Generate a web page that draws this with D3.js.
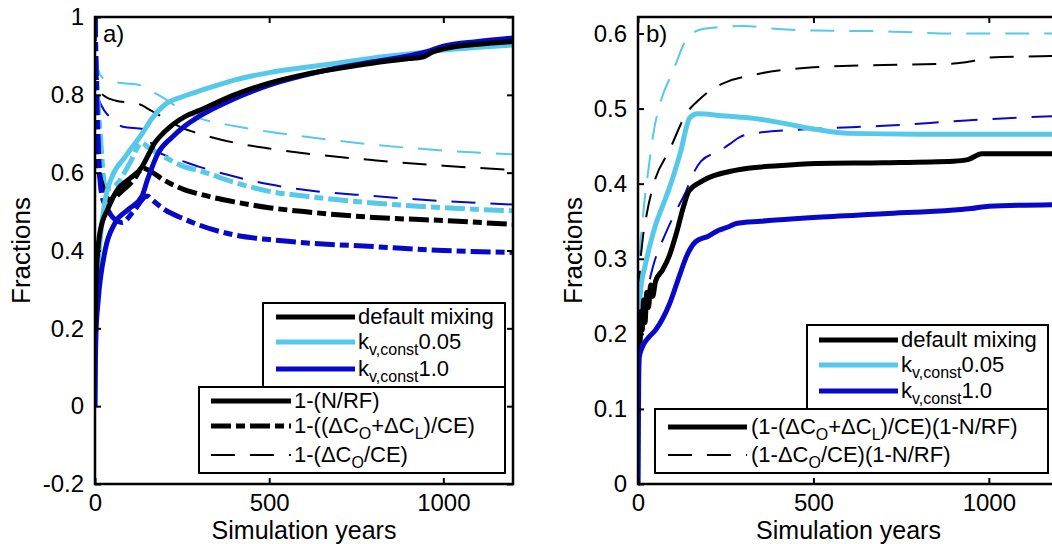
<!DOCTYPE html>
<html>
<head>
<meta charset="utf-8">
<script src="https://cdn.jsdelivr.net/npm/d3@7"></script>
<style>
  body { margin: 0; background: #fff; }
  svg { display: block; font-family: "Liberation Sans", Arial, sans-serif; }
</style>
</head>
<body>
<div id="chart"></div>
<script>
// ---- data ----
// panel a
const aBlackSolidT = [0, 2, 5, 15, 37, 66, 100, 135, 150, 172, 200, 258, 300, 400, 500, 600, 700, 800, 900, 940, 970, 1000, 1100, 1200];
const aBlackSolidV = [0.19, 0.3, 0.36, 0.45, 0.507, 0.558, 0.585, 0.615, 0.64, 0.677, 0.705, 0.744, 0.76, 0.8, 0.83, 0.852, 0.868, 0.882, 0.893, 0.897, 0.91, 0.918, 0.93, 0.937];
const aCyanSolidT = [0, 1, 3, 8, 14, 29, 49, 86, 135, 164, 201, 250, 300, 400, 500, 600, 700, 800, 900, 1000, 1100, 1200];
const aCyanSolidV = [0, 0.15, 0.28, 0.36, 0.42, 0.53, 0.59, 0.64, 0.7, 0.74, 0.775, 0.795, 0.81, 0.838, 0.857, 0.87, 0.882, 0.895, 0.905, 0.915, 0.922, 0.928];
const aBlueSolidT = [0, 1, 3, 9, 29, 57, 95, 135, 150, 181, 220, 258, 300, 400, 500, 600, 700, 800, 900, 950, 1000, 1100, 1200];
const aBlueSolidV = [0, 0.1, 0.19, 0.27, 0.4, 0.47, 0.505, 0.54, 0.58, 0.65, 0.69, 0.72, 0.745, 0.79, 0.825, 0.85, 0.87, 0.885, 0.9, 0.91, 0.925, 0.937, 0.946];

const aBlackDashDotT = [0, 3, 9, 20, 29, 37, 55, 80, 110, 138, 150, 200, 258, 300, 400, 500, 600, 800, 1000, 1200];
const aBlackDashDotV = [1.0, 0.8, 0.62, 0.57, 0.55, 0.53, 0.535, 0.555, 0.58, 0.612, 0.608, 0.58, 0.556, 0.545, 0.525, 0.51, 0.5, 0.485, 0.477, 0.467];
const aCyanDashDotT = [0, 5, 15, 29, 45, 66, 100, 135, 150, 200, 258, 300, 400, 500, 600, 800, 1000, 1200];
const aCyanDashDotV = [1.0, 0.85, 0.7, 0.565, 0.56, 0.574, 0.625, 0.677, 0.667, 0.64, 0.615, 0.605, 0.575, 0.552, 0.54, 0.522, 0.51, 0.502];
const aBlueDashDotT = [0, 5, 12, 20, 37, 49, 78, 110, 150, 164, 200, 258, 300, 400, 500, 600, 800, 1000, 1200];
const aBlueDashDotV = [1.0, 0.8, 0.62, 0.54, 0.505, 0.487, 0.472, 0.5, 0.54, 0.53, 0.505, 0.48, 0.465, 0.44, 0.428, 0.42, 0.41, 0.4, 0.395];

const aBlackDashT = [0, 3, 8, 15, 30, 60, 100, 130, 160, 200, 250, 300, 400, 500, 600, 800, 1000, 1200];
const aBlackDashV = [1.0, 0.9, 0.84, 0.81, 0.795, 0.785, 0.78, 0.775, 0.76, 0.74, 0.715, 0.7, 0.677, 0.662, 0.65, 0.632, 0.618, 0.607];
const aCyanDashT = [0, 3, 8, 20, 40, 80, 130, 160, 200, 250, 300, 400, 500, 600, 800, 1000, 1200];
const aCyanDashV = [1.0, 0.93, 0.87, 0.845, 0.835, 0.83, 0.825, 0.81, 0.79, 0.76, 0.74, 0.72, 0.705, 0.693, 0.672, 0.657, 0.647];
const aBlueDashT = [0, 3, 8, 20, 40, 80, 140, 150, 170, 200, 250, 300, 400, 500, 600, 800, 1000, 1200];
const aBlueDashV = [1.0, 0.88, 0.8, 0.77, 0.745, 0.718, 0.712, 0.7, 0.66, 0.645, 0.63, 0.615, 0.59, 0.57, 0.556, 0.54, 0.527, 0.518];

// panel b
const bBlackSolidT = [0, 3, 6, 9, 12, 16, 20, 25, 30, 36, 42, 50, 70, 90, 110, 130, 145, 185, 280, 400, 510, 700, 900, 940, 980, 1200];
const bBlackSolidV = [0.17, 0.21, 0.19, 0.23, 0.205, 0.245, 0.215, 0.255, 0.235, 0.265, 0.25, 0.27, 0.285, 0.305, 0.335, 0.37, 0.39, 0.404, 0.418, 0.424, 0.427, 0.428, 0.43, 0.432, 0.44, 0.44];
const bCyanSolidT = [0, 1, 3, 8, 20, 35, 50, 70, 90, 120, 148, 170, 250, 330, 420, 510, 600, 800, 1200];
const bCyanSolidV = [0, 0.15, 0.22, 0.26, 0.29, 0.32, 0.345, 0.37, 0.395, 0.44, 0.488, 0.493, 0.49, 0.487, 0.48, 0.472, 0.467, 0.466, 0.466];
const bBlueSolidT = [0, 2, 4, 15, 30, 50, 90, 120, 140, 165, 200, 230, 260, 280, 350, 500, 700, 900, 950, 1000, 1200];
const bBlueSolidV = [0, 0.14, 0.17, 0.185, 0.195, 0.205, 0.24, 0.28, 0.305, 0.323, 0.33, 0.338, 0.343, 0.347, 0.35, 0.355, 0.36, 0.365, 0.367, 0.37, 0.372];

const bBlackDashT = [0, 5, 12, 25, 45, 90, 140, 170, 205, 250, 330, 500, 700, 900, 950, 1000, 1200];
const bBlackDashV = [0.2, 0.28, 0.32, 0.36, 0.4, 0.445, 0.495, 0.51, 0.524, 0.535, 0.545, 0.555, 0.558, 0.56, 0.563, 0.568, 0.57];
const bCyanDashT = [0, 5, 15, 30, 45, 65, 100, 135, 165, 200, 300, 400, 500, 700, 900, 1200];
const bCyanDashV = [0.2, 0.3, 0.36, 0.42, 0.47, 0.51, 0.55, 0.59, 0.603, 0.607, 0.61, 0.606, 0.604, 0.603, 0.6, 0.6];
const bBlueDashT = [0, 10, 23, 43, 80, 110, 137, 157, 180, 234, 262, 290, 330, 500, 700, 900, 1000, 1200];
const bBlueDashV = [0.17, 0.22, 0.25, 0.29, 0.335, 0.365, 0.39, 0.413, 0.43, 0.444, 0.453, 0.462, 0.467, 0.473, 0.477, 0.483, 0.486, 0.49];

const aYTicks = [-0.2, 0, 0.2, 0.4, 0.6, 0.8, 1];
const bYTicks = [0, 0.1, 0.2, 0.3, 0.4, 0.5, 0.6];
const xTicks = [0, 500, 1000];

const colBlack = "#000000", colCyan = "#56c9ea", colBlue = "#0808c8";

// ---- layout ----
const W = 1052, H = 544;
const svg = d3.select("#chart").append("svg").attr("width", W).attr("height", H);

const styles = {
    solid: { width: 5, dash: null },
    dashdot: { width: 5, dash: "20,5,9,5" },
    dash: { width: 2, dash: "24,15" }
};

function zip(t, v) { return t.map((d, i) => ({ t: d, v: v[i] })); }

// matlab-style tick text: plain hyphen for negatives
const fmtY = d => String(+d.toFixed(1));

function drawPanel(opt) {
    const x = d3.scaleLinear().domain([0, 1200]).range([opt.x0, opt.x1]);
    const y = d3.scaleLinear().domain(opt.yDomain).range([opt.y1, opt.y0]);
    const g = svg.append("g");

    g.append("clipPath").attr("id", "clip-" + opt.id)
        .append("rect").attr("x", opt.x0).attr("y", opt.y0)
        .attr("width", opt.x1 - opt.x0).attr("height", opt.y1 - opt.y0);

    const line = d3.line().x(d => x(d.t)).y(d => y(d.v)).curve(d3.curveMonotoneX);
    const plot = g.append("g").attr("clip-path", `url(#clip-${opt.id})`);
    opt.series.forEach(s => {
        const st = styles[s.style];
        plot.append("path")
            .datum(zip(s.t, s.v))
            .attr("d", line)
            .attr("fill", "none")
            .attr("stroke", s.color)
            .attr("stroke-width", st.width)
            .attr("stroke-dasharray", st.dash)
            .attr("stroke-linejoin", "round");
    });

    // axes, ticks pointing inward
    const fs = "24px";
    g.append("g").attr("transform", `translate(0,${opt.y1})`)
        .call(d3.axisBottom(x).tickValues(xTicks).tickSize(-6).tickPadding(10).tickFormat(d3.format("d")))
        .call(a => a.select(".domain").remove())
        .call(a => a.selectAll("line").attr("stroke-width", 2))
        .call(a => a.selectAll("text").style("font-size", fs).attr("fill", "#000"));
    g.append("g").attr("transform", `translate(0,${opt.y0})`)
        .call(d3.axisTop(x).tickValues(xTicks).tickSize(-6).tickFormat(""))
        .call(a => a.select(".domain").remove())
        .call(a => a.selectAll("line").attr("stroke-width", 2));
    g.append("g").attr("transform", `translate(${opt.x0},0)`)
        .call(d3.axisLeft(y).tickValues(opt.yTicks).tickSize(-6).tickPadding(11).tickFormat(fmtY))
        .call(a => a.select(".domain").remove())
        .call(a => a.selectAll("line").attr("stroke-width", 2))
        .call(a => a.selectAll("text").style("font-size", fs).attr("fill", "#000"));
    g.append("g").attr("transform", `translate(${opt.x1},0)`)
        .call(d3.axisRight(y).tickValues(opt.yTicks).tickSize(-6).tickFormat(""))
        .call(a => a.select(".domain").remove())
        .call(a => a.selectAll("line").attr("stroke-width", 2));

    g.append("rect").attr("x", opt.x0).attr("y", opt.y0)
        .attr("width", opt.x1 - opt.x0).attr("height", opt.y1 - opt.y0)
        .attr("fill", "none").attr("stroke", "#000").attr("stroke-width", 2.5);

    g.append("text").attr("x", (opt.x0 + opt.x1) / 2).attr("y", 539)
        .attr("text-anchor", "middle").style("font-size", "25px").text("Simulation years");
    g.append("text")
        .attr("transform", `translate(${opt.labelX},${(opt.y0 + opt.y1) / 2}) rotate(-90)`)
        .attr("text-anchor", "middle").style("font-size", "26px").text("Fractions");
    g.append("text").attr("x", opt.x0 + 8).attr("y", 42)
        .style("font-size", "24px").text(opt.tag);

    // legends
    opt.legends.forEach(L => {
        g.append("rect").attr("x", L.x0).attr("y", L.y0)
            .attr("width", L.x1 - L.x0).attr("height", L.y1 - L.y0)
            .attr("fill", "#fff").attr("stroke", "#000").attr("stroke-width", 2);
        L.items.forEach((it, i) => {
            const st = styles[it.style];
            const ry = L.rows[i];
            g.append("line").attr("x1", L.lx0).attr("x2", L.lx1).attr("y1", ry).attr("y2", ry)
                .attr("stroke", it.color).attr("stroke-width", st.width)
                .attr("stroke-dasharray", st.dash);
            const t = g.append("text").attr("x", L.tx).attr("y", ry + 7).style("font-size", "22px");
            let down = false;
            it.parts.forEach(p => {
                if (p.sub) {
                    t.append("tspan").attr("dy", 6).style("font-size", "16px").text(p.sub);
                    down = true;
                } else {
                    t.append("tspan").attr("dy", down ? -6 : 0).text(p.txt);
                    down = false;
                }
            });
        });
    });
}

const mixItems = [
    { color: colBlack, style: "solid", parts: [{ txt: "default mixing" }] },
    { color: colCyan, style: "solid", parts: [{ txt: "k" }, { sub: "v,const" }, { txt: "0.05" }] },
    { color: colBlue, style: "solid", parts: [{ txt: "k" }, { sub: "v,const" }, { txt: "1.0" }] }
];

drawPanel({
    id: "a", tag: "a)", x0: 95, x1: 513, y0: 17, y1: 484, labelX: 30,
    yDomain: [-0.2, 1], yTicks: aYTicks,
    series: [
        { t: aCyanDashT, v: aCyanDashV, color: colCyan, style: "dash" },
        { t: aBlackDashT, v: aBlackDashV, color: colBlack, style: "dash" },
        { t: aBlueDashT, v: aBlueDashV, color: colBlue, style: "dash" },
        { t: aCyanDashDotT, v: aCyanDashDotV, color: colCyan, style: "dashdot" },
        { t: aBlackDashDotT, v: aBlackDashDotV, color: colBlack, style: "dashdot" },
        { t: aBlueDashDotT, v: aBlueDashDotV, color: colBlue, style: "dashdot" },
        { t: aCyanSolidT, v: aCyanSolidV, color: colCyan, style: "solid" },
        { t: aBlueSolidT, v: aBlueSolidV, color: colBlue, style: "solid" },
        { t: aBlackSolidT, v: aBlackSolidV, color: colBlack, style: "solid" }
    ],
    legends: [
        { x0: 263, x1: 505, y0: 303, y1: 387, lx0: 276, lx1: 355, tx: 358, rows: [317, 342, 369], items: mixItems },
        { x0: 199, x1: 505, y0: 387, y1: 473, lx0: 211, lx1: 291, tx: 294, rows: [401, 426, 455], items: [
            { color: colBlack, style: "solid", parts: [{ txt: "1-(N/RF)" }] },
            { color: colBlack, style: "dashdot", parts: [{ txt: "1-((\u0394C" }, { sub: "O" }, { txt: "+\u0394C" }, { sub: "L" }, { txt: ")/CE)" }] },
            { color: colBlack, style: "dash", parts: [{ txt: "1-(\u0394C" }, { sub: "O" }, { txt: "/CE)" }] }
        ] }
    ]
});

drawPanel({
    id: "b", tag: "b)", x0: 638, x1: 1059, y0: 17, y1: 484, labelX: 582,
    yDomain: [0, 0.622], yTicks: bYTicks,
    series: [
        { t: bCyanDashT, v: bCyanDashV, color: colCyan, style: "dash" },
        { t: bBlackDashT, v: bBlackDashV, color: colBlack, style: "dash" },
        { t: bBlueDashT, v: bBlueDashV, color: colBlue, style: "dash" },
        { t: bCyanSolidT, v: bCyanSolidV, color: colCyan, style: "solid" },
        { t: bBlackSolidT, v: bBlackSolidV, color: colBlack, style: "solid" },
        { t: bBlueSolidT, v: bBlueSolidV, color: colBlue, style: "solid" }
    ],
    legends: [
        { x0: 807, x1: 1048, y0: 325, y1: 409, lx0: 819, lx1: 898, tx: 901, rows: [340, 365, 391], items: mixItems },
        { x0: 655, x1: 1048, y0: 409, y1: 473, lx0: 668, lx1: 747, tx: 751, rows: [427, 455], items: [
            { color: colBlack, style: "solid", parts: [{ txt: "(1-(\u0394C" }, { sub: "O" }, { txt: "+\u0394C" }, { sub: "L" }, { txt: ")/CE)(1-N/RF)" }] },
            { color: colBlack, style: "dash", parts: [{ txt: "(1-\u0394C" }, { sub: "O" }, { txt: "/CE)(1-N/RF)" }] }
        ] }
    ]
});
</script>
</body>
</html>
